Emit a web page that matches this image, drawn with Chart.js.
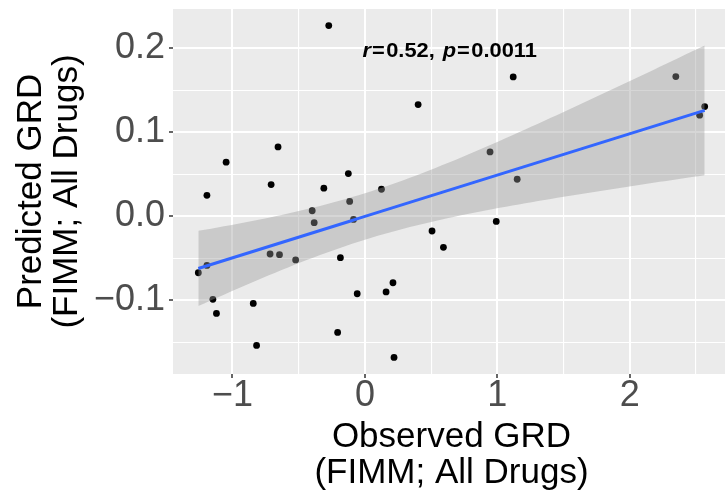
<!DOCTYPE html>
<html>
<head>
<meta charset="utf-8">
<script src="https://cdn.jsdelivr.net/npm/chart.js@4/dist/chart.umd.min.js"></script>
<style>
  html, body { margin: 0; padding: 0; background: #ffffff; overflow: hidden; }
  #wrap { width: 734px; height: 497px; }
</style>
</head>
<body>
<div id="wrap"><canvas id="chart" width="734" height="497"></canvas></div>
<script>
// Observed vs predicted GRD, one entry per cell line
const observedGRD = [
  -0.273, 0.402, -0.656, -1.048, -0.125, -0.708, -0.310, 0.125, 1.120, 2.348,
  2.566, 2.528, 0.945, 1.150, -1.193, -0.115, -0.398, -0.383, -0.086, 0.507,
  0.593, -0.716, -0.645, -0.523, -0.185, -1.193, -1.258, -1.148, -1.121, -0.843,
  -0.058, 0.160, 0.212, -0.206, -0.818, 0.220, 0.992
];
const predictedGRD = [
  0.2269, 0.1329, 0.0825, 0.0643, 0.0507, 0.0376, 0.0333, 0.0321, 0.1658, 0.1662,
  0.1305, 0.1202, 0.0765, 0.0440, 0.0248, 0.0176, 0.0065, -0.0077, -0.0038, -0.0176,
  -0.0371, -0.0450, -0.0458, -0.0521, -0.0494, -0.0586, -0.0673, -0.0990, -0.1157, -0.1038,
  -0.0923, -0.0902, -0.0792, -0.1383, -0.1538, -0.1681, -0.0062
];

// Axis ticks
const xMajorTicks = [-1, 0, 1, 2];
const xMinorTicks = [-0.5, 0.5, 1.5, 2.5];
const xTickLabels = ['\u22121', '0', '1', '2'];
const yMajorTicks = [-0.1, 0, 0.1, 0.2];
const yMinorTicks = [-0.15, -0.05, 0.05, 0.15];
const yTickLabels = ['\u22120.1', '0.0', '0.1', '0.2'];

// Correlation annotation
const statSymbols = ['r', 'p'];
const statValues = ['0.52', '0.0011'];

// ---- linear fit with 95% confidence band (80 evaluation points) ----
const n = observedGRD.length;
const xbar = observedGRD.reduce((a, b) => a + b, 0) / n;
const ybar = predictedGRD.reduce((a, b) => a + b, 0) / n;
let sxx = 0, sxy = 0;
for (let i = 0; i < n; i++) {
  sxx += (observedGRD[i] - xbar) ** 2;
  sxy += (observedGRD[i] - xbar) * (predictedGRD[i] - ybar);
}
const slope = sxy / sxx;
const intercept = ybar - slope * xbar;
let sse = 0;
for (let i = 0; i < n; i++) {
  sse += (predictedGRD[i] - (intercept + slope * observedGRD[i])) ** 2;
}
const sigma = Math.sqrt(sse / (n - 2));
const tCrit = 2.0301; // t(0.975, df = 35)
const xLo = Math.min(...observedGRD), xHi = Math.max(...observedGRD);
const fitLine = [], bandUpper = [], bandLower = [];
for (let k = 0; k < 80; k++) {
  const x = xLo + (xHi - xLo) * k / 79;
  const yhat = intercept + slope * x;
  const se = sigma * Math.sqrt(1 / n + (x - xbar) ** 2 / sxx);
  fitLine.push({ x, y: yhat });
  bandUpper.push({ x, y: yhat + tCrit * se });
  bandLower.push({ x, y: yhat - tCrit * se });
}

// Axis limits: data range padded by 5% on each side
const yLo = Math.min(...predictedGRD), yHi = Math.max(...predictedGRD);
const xPad = (xHi - xLo) * 0.05, yPad = (yHi - yLo) * 0.05;

const FONT = '"Liberation Sans", Arial, Helvetica, sans-serif';
const isIn = (arr, v) => arr.some(t => Math.abs(t - v) < 1e-9);

const panelBackground = {
  id: 'panelBackground',
  beforeDraw(chart) {
    const { ctx, chartArea: a } = chart;
    ctx.save();
    ctx.fillStyle = '#EBEBEB';
    ctx.fillRect(a.left, a.top, a.right - a.left, a.bottom - a.top);
    ctx.restore();
  }
};

const corrLabel = {
  id: 'corrLabel',
  afterDatasetsDraw(chart) {
    const { ctx, scales } = chart;
    const size = 19.5;
    const italic = `italic bold ${size}px ${FONT}`;
    const bold = `bold ${size}px ${FONT}`;
    const x0 = scales.x.getPixelForValue(0) - 2.5;
    const y0 = scales.y.getPixelForValue(0.2) + 8.4;
    const pieces = [
      [statSymbols[0], italic, 1], ['=', bold, 1.3], [statValues[0] + ',', bold, 7],
      [statSymbols[1], italic, 1], ['=', bold, 1.3], [statValues[1], bold, 0]
    ];
    ctx.save();
    ctx.translate(x0, y0);
    ctx.scale(1.12, 1);
    ctx.fillStyle = '#000000';
    ctx.textBaseline = 'alphabetic';
    ctx.textAlign = 'left';
    let x = 0;
    for (const [txt, font, gap] of pieces) {
      ctx.font = font;
      ctx.fillText(txt, x, 0);
      x += ctx.measureText(txt).width + gap;
    }
    ctx.restore();
  }
};

const gridStyle = (major) => ({
  color: '#FFFFFF',
  lineWidth: c => (c.tick && isIn(major, c.tick.value)) ? 2 : 1.1,
  drawTicks: true,
  tickLength: 4,
  tickWidth: 1.5,
  tickColor: c => (c.tick && isIn(major, c.tick.value)) ? '#333333' : 'rgba(0,0,0,0)'
});

new Chart(document.getElementById('chart'), {
  type: 'scatter',
  data: {
    datasets: [
      {
        label: 'cell lines',
        data: observedGRD.map((x, i) => ({ x, y: predictedGRD[i] })),
        backgroundColor: '#000000',
        borderWidth: 0,
        pointRadius: 3.4,
        order: 3
      },
      {
        label: 'upper',
        data: bandUpper,
        showLine: true,
        pointRadius: 0,
        borderWidth: 0,
        borderColor: 'rgba(0,0,0,0)',
        backgroundColor: 'rgba(153,153,153,0.4)',
        fill: '+1',
        order: 2
      },
      {
        label: 'lower',
        data: bandLower,
        showLine: true,
        pointRadius: 0,
        borderWidth: 0,
        borderColor: 'rgba(0,0,0,0)',
        fill: false,
        order: 2
      },
      {
        label: 'fit',
        data: fitLine,
        showLine: true,
        pointRadius: 0,
        borderColor: '#3366FF',
        borderWidth: 3,
        fill: false,
        order: 1
      }
    ]
  },
  options: {
    responsive: false,
    animation: false,
    layout: { padding: { top: 9, left: 0, right: 0, bottom: 0 } },
    plugins: { legend: { display: false }, tooltip: { enabled: false } },
    scales: {
      x: {
        type: 'linear',
        min: xLo - xPad,
        max: xHi + xPad,
        afterBuildTicks: s => { s.ticks = [...xMajorTicks, ...xMinorTicks].sort((a, b) => a - b).map(v => ({ value: v })); },
        afterFit: s => { s.height = 123; s.paddingLeft = 0; s.paddingRight = 0; },
        border: { display: false },
        grid: gridStyle(xMajorTicks),
        ticks: {
          autoSkip: false,
          maxRotation: 0,
          padding: 0,
          color: '#4D4D4D',
          font: { family: FONT, size: 36, lineHeight: 1 },
          callback: v => { const i = xMajorTicks.findIndex(t => Math.abs(t - v) < 1e-9); return i >= 0 ? xTickLabels[i] : ''; }
        },
        title: {
          display: true,
          text: ['Observed GRD', '(FIMM; All Drugs)'],
          color: '#000000',
          font: { family: FONT, size: 35, lineHeight: '35.7px' },
          padding: { top: 0, bottom: 6.2 }
        }
      },
      y: {
        type: 'linear',
        min: yLo - yPad,
        max: yHi + yPad,
        afterBuildTicks: s => { s.ticks = [...yMajorTicks, ...yMinorTicks].sort((a, b) => a - b).map(v => ({ value: v })); },
        afterFit: s => { s.width = 173; s.paddingTop = 0; s.paddingBottom = 0; },
        border: { display: false },
        grid: gridStyle(yMajorTicks),
        ticks: {
          autoSkip: false,
          padding: 4,
          color: '#4D4D4D',
          font: { family: FONT, size: 36, lineHeight: 1 },
          callback: v => { const i = yMajorTicks.findIndex(t => Math.abs(t - v) < 1e-9); return i >= 0 ? yTickLabels[i] : ''; }
        },
        title: {
          display: true,
          text: ['Predicted GRD', '(FIMM; All Drugs)'],
          color: '#000000',
          font: { family: FONT, size: 35, lineHeight: '35.7px' },
          padding: { top: 13.3, bottom: 0 }
        }
      }
    }
  },
  plugins: [panelBackground, corrLabel]
});
</script>
</body>
</html>
